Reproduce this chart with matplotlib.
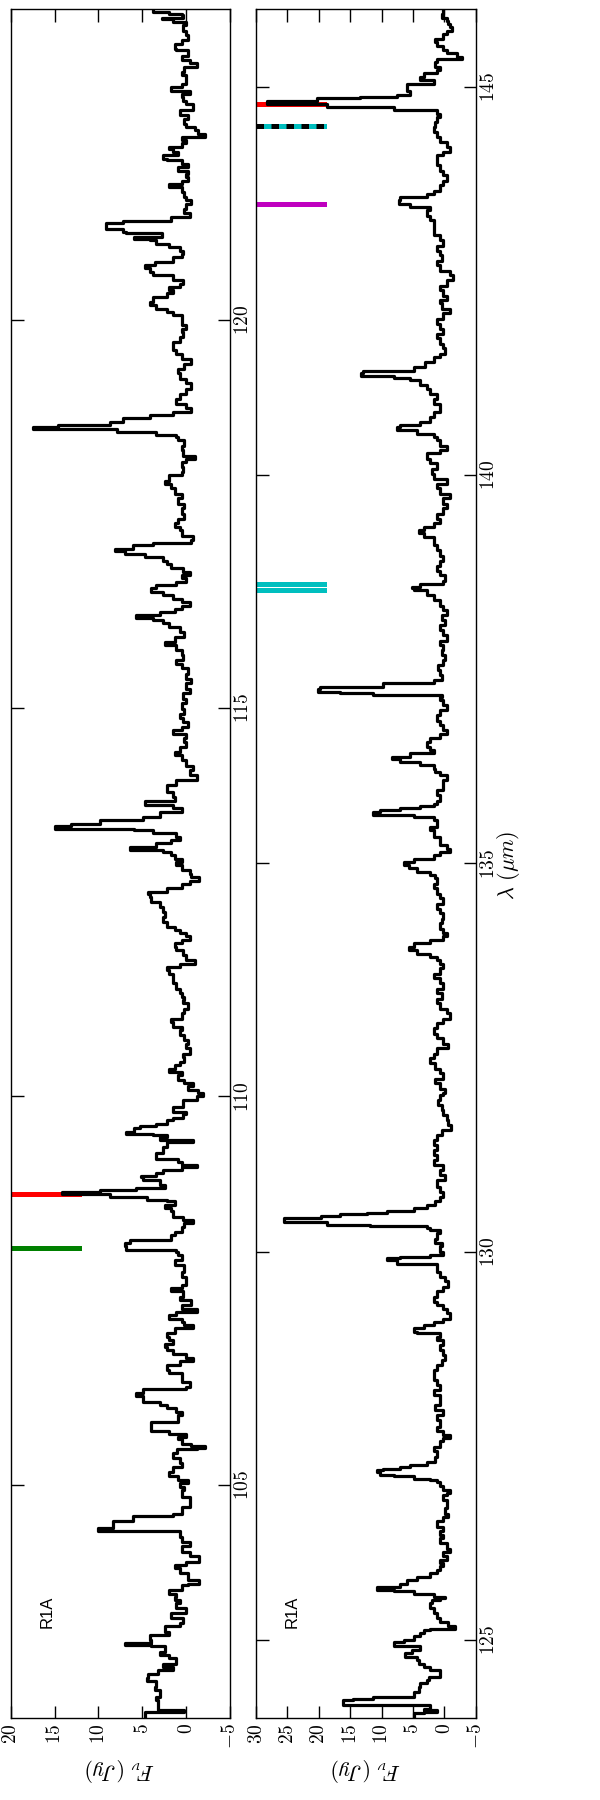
import matplotlib
matplotlib.use('Agg')
import matplotlib.pyplot as plt

plt.rcParams['mathtext.fontset'] = 'cm'

# upper spectrum (102-124 um): wavelength and flux density
wl_a = [102.02, 102.06, 102.08, 102.10, 102.12, 102.23, 102.27, 102.36, 102.40, 102.47, 102.51, 102.57,
        102.62, 102.66, 102.70, 102.77, 102.81, 102.85, 102.92, 102.94, 102.97, 103.00, 103.07, 103.11,
        103.18, 103.22, 103.28, 103.35, 103.41, 103.48, 103.52, 103.56, 103.60, 103.65, 103.71, 103.73,
        103.78, 103.86, 103.93, 103.97, 104.01, 104.08, 104.14, 104.21, 104.27, 104.33, 104.38, 104.40,
        104.44, 104.51, 104.53, 104.58, 104.60, 104.63, 104.72, 104.81, 104.85, 104.89, 104.93, 104.97,
        105.02, 105.06, 105.11, 105.17, 105.23, 105.28, 105.34, 105.41, 105.46, 105.48, 105.50, 105.53,
        105.59, 105.62, 105.66, 105.69, 105.79, 105.81, 105.90, 105.94, 105.99,
        106.03, 106.07, 106.14, 106.18, 106.22, 106.24, 106.26, 106.33, 106.37, 106.44, 106.48, 106.54,
        106.59, 106.63, 106.69, 106.74, 106.78, 106.82, 106.86, 106.91, 106.95, 107.02, 107.06, 107.10,
        107.14, 107.19, 107.23, 107.27, 107.32, 107.38, 107.42, 107.49, 107.53, 107.57, 107.62, 107.68,
        107.74, 107.83, 107.89, 107.96, 108.00, 108.03, 108.07, 108.11, 108.13, 108.15, 108.22, 108.26,
        108.32, 108.37, 108.41, 108.45, 108.52, 108.56, 108.60, 108.65, 108.67, 108.71, 108.74, 108.77,
        108.80, 108.82, 108.84, 108.86, 108.92, 108.96, 108.98, 109.01, 109.03, 109.05, 109.09, 109.12,
        109.16, 109.20, 109.27, 109.35, 109.42, 109.44, 109.48, 109.50, 109.52, 109.54, 109.59, 109.62,
        109.65, 109.70, 109.72, 109.78, 109.80, 109.87, 109.95, 110.00,
        110.04, 110.08, 110.13, 110.17, 110.21, 110.28, 110.32, 110.36, 110.40, 110.45, 110.51, 110.55,
        110.62, 110.68, 110.73, 110.79, 110.85, 110.90, 110.96, 111.00, 111.07, 111.13, 111.20, 111.24,
        111.28, 111.33, 111.39, 111.46, 111.52, 111.58, 111.63, 111.67, 111.71, 111.76, 111.82, 111.88,
        111.93, 111.97, 112.01, 112.06, 112.10, 112.14, 112.18, 112.25, 112.31, 112.38, 112.44, 112.51,
        112.57, 112.61, 112.63, 112.68, 112.74, 112.78, 112.83, 112.87, 112.91, 112.98, 113.02, 113.06,
        113.11, 113.15, 113.17, 113.19, 113.21, 113.26, 113.30, 113.34, 113.39, 113.43, 113.45, 113.48,
        113.51, 113.56, 113.60, 113.66, 113.71, 113.75, 113.77, 113.81, 113.86, 113.92, 113.96, 114.01,
        114.07, 114.14, 114.20, 114.26, 114.33, 114.39, 114.44, 114.50, 114.57,
        114.61, 114.67, 114.72, 114.76, 114.82, 114.87, 114.93, 114.99, 115.06, 115.12, 115.19, 115.25,
        115.32, 115.38, 115.44, 115.51, 115.57, 115.62, 115.68, 115.75, 115.81, 115.85, 115.92, 115.98,
        116.05, 116.09, 116.13, 116.16, 116.20, 116.24, 116.28, 116.32, 116.37, 116.41, 116.45, 116.50,
        116.54, 116.58, 116.62, 116.67, 116.71, 116.75, 116.80, 116.86, 116.90, 116.95, 116.99, 117.02,
        117.05, 117.10, 117.12, 117.16, 117.22, 117.29, 117.33, 117.38, 117.44, 117.50, 117.57, 117.63,
        117.70, 117.76, 117.83, 117.89, 117.93, 118.00, 118.04, 118.10, 118.17, 118.21, 118.25, 118.32,
        118.38, 118.45, 118.49, 118.51, 118.56, 118.59, 118.62, 118.64, 118.68, 118.73, 118.77, 118.81,
        118.86, 118.92, 118.98,
        119.05, 119.11, 119.18, 119.24, 119.31, 119.37, 119.43, 119.50, 119.56, 119.61, 119.65, 119.71,
        119.78, 119.84, 119.88, 119.93, 119.99, 120.06, 120.10, 120.14, 120.19, 120.23, 120.29, 120.34,
        120.38, 120.42, 120.46, 120.51, 120.57, 120.61, 120.66, 120.70, 120.74, 120.81, 120.85, 120.89,
        120.94, 120.98, 121.02, 121.04, 121.07, 121.11, 121.13, 121.17, 121.22, 121.24, 121.27, 121.32,
        121.37, 121.43, 121.49, 121.54, 121.58, 121.64, 121.71, 121.75, 121.79, 121.84, 121.88, 121.92,
        121.97, 122.01, 122.05, 122.07, 122.12, 122.16, 122.20, 122.22, 122.27, 122.31, 122.35, 122.39,
        122.44, 122.48, 122.52, 122.59, 122.63, 122.70, 122.74, 122.78, 122.82, 122.87, 122.91, 122.95,
        123.00, 123.04, 123.10, 123.15, 123.19, 123.25, 123.30, 123.34, 123.40, 123.47, 123.49, 123.55,
        123.60, 123.66, 123.72, 123.79, 123.83, 123.87, 123.89, 123.92, 123.94, 123.96, 124.00]
fx_a = [4.7, 4.7, 0.2, 3.2, 3.2, 3.4, 3.0, 3.6, 3.4, 4.5, 4.3, 3.2,
        1.5, 2.6, 1.1, 1.9, 3.0, 2.4, 4.0, 7.0, 4.0, 4.1, 2.0, 2.4,
        0.7, 0.3, 1.7, 0.0, 1.1, 0.7, 1.3, 1.1, 1.9, 0.5, -0.2, -1.5,
        -0.2, 0.7, 1.3, 0.0, -1.5, -0.4, 0.5, -0.4, 0.5, 0.7, 0.7, 10.0,
        8.3, 8.3, 6.0, 6.0, 1.5, 0.5, -0.4, -0.4, 0.5, 0.5, 0.2, 0.7,
        -0.2, 0.9, 1.9, 1.5, 0.5, 0.7, 1.5, 1.0, -1.2, -2.1, -0.5, 0.5,
        0.9, 0.0, 1.9, 4.0, 4.0, 0.9, 0.5, 1.1, 2.2,
        3.0, 4.9, 5.7, 4.9, 4.9, 0.0, -0.4, 0.5, 0.5, 2.0, 2.2, 0.7,
        -0.8, 0.0, 1.5, 2.2, 2.4, 1.5, 1.9, 2.2, 1.3, -0.8, 0.2, 0.5,
        2.0, 1.1, -1.2, 0.5, -0.6, 0.7, 0.3, 1.7, 0.5, 0.0, 0.0, 0.5,
        0.2, 1.3, 0.5, 0.9, 1.1, 6.8, 7.0, 6.4, 6.4, 1.7, 1.3, 0.5,
        0.2, -0.8, 0.3, 1.5, 1.7, 2.4, 1.3, 2.2, 4.5, 8.7, 14.1, 9.8,
        5.7, 2.4, 2.4, 3.0, 4.9, 5.1, 3.4, 2.6, 2.6, 0.5, -1.2, 0.5,
        0.9, 3.4, 2.6, 2.2, -0.8, 3.0, 2.2, 3.8, 6.8, 5.9, 5.3, 3.4,
        2.2, 1.5, 0.3, 0.0, 1.5, 0.3, -1.2, -1.9,
        -1.4, -0.2, -0.8, 0.2, 0.9, 0.5, 1.9, 1.3, 0.7, 0.2, 0.3, -0.4,
        0.0, -0.2, 0.2, 0.7, 0.5, 1.5, 1.7, 0.5, 0.2, -0.2, 0.3, 0.2,
        0.5, 0.7, 1.1, 1.5, 1.5, 1.9, 2.2, 0.7, -1.0, 0.0, 0.3, 1.1,
        1.3, 0.5, -0.4, 0.0, 0.7, 1.3, 2.2, 2.6, 2.4, 2.6, 3.0, 4.0,
        4.1, 4.3, 2.2, 0.5, -0.4, -1.5, -0.6, -0.4, 0.5, 1.1, 0.5, 1.3,
        1.7, 2.6, 6.4, 6.4, 3.4, 1.7, 0.7, 1.1, 3.8, 5.9, 15.0, 13.1,
        9.8, 4.9, 3.0, 0.5, 1.5, 4.7, 4.7, 1.3, 1.5, 2.2, 2.2, 1.1,
        -1.2, -0.4, -0.8, 0.0, 0.5, 1.3, 0.7, 0.0, 0.2,
        0.0, 1.5, 0.5, -0.2, 0.4, 0.7, 0.2, 0.5, 0.0, 0.4, -0.4, 0.0,
        -0.6, 0.0, -0.2, 0.5, 1.1, 0.4, 0.5, 1.1, 2.4, 1.3, 0.2, 0.7,
        1.9, 2.6, 3.8, 5.7, 3.0, 1.3, 0.5, -0.4, 0.5, 1.5, 2.6, 4.0,
        3.4, 1.1, 0.0, 0.5, -0.4, 0.4, 1.7, 2.2, 2.6, 4.7, 7.0, 8.1,
        6.0, 3.8, -0.6, -0.8, 0.5, 0.7, 1.3, 0.9, 0.2, 0.5, 0.2, 0.9,
        0.5, 1.3, 1.7, 2.4, 2.0, 0.5, 0.4, 0.5, 0.0, -1.0, 0.4, 0.5,
        0.2, 0.9, 1.1, 3.4, 7.9, 17.4, 14.6, 8.7, 7.2, 4.1, 1.5, -0.6,
        0.0, 1.1, 0.7,
        0.0, -0.6, 0.0, 0.7, 0.9, 0.2, -0.6, 0.5, 1.1, 1.5, 1.5, 0.7,
        0.3, 0.5, 0.0, 0.5, 0.5, 1.5, 2.2, 3.4, 4.1, 3.8, 2.2, 1.5,
        1.9, 0.7, 0.4, 1.5, 3.8, 4.1, 4.7, 3.6, 1.5, 0.5, 0.4, 0.7,
        2.0, 3.4, 4.1, 5.9, 2.8, 6.8, 7.2, 9.1, 9.1, 7.2, 1.7, -0.4,
        0.2, 0.0, -0.6, 0.0, 0.2, 0.5, 2.0, 0.5, -0.2, 0.0, -0.2, 0.9,
        -0.2, 0.5, 2.2, 2.6, 0.9, 1.5, 1.9, 0.5, 0.0, 0.5, -2.1, -1.4,
        -1.0, 0.0, 0.2, -0.2, 0.7, -0.8, -0.8, 0.0, 0.4, 0.5, -0.4, 1.7,
        0.5, 0.0, 0.0, 0.5, 0.2, -1.2, -0.4, 0.5, -0.2, 1.1, 1.3, 0.5,
        -0.2, 0.0, 0.4, 0.0, 1.5, 2.8, 0.4, 0.5, 1.9, 3.8, 3.8]

# lower spectrum (124-146 um)
wl_b = [124.00, 124.04, 124.06, 124.08, 124.10, 124.12, 124.15, 124.16, 124.21, 124.23, 124.25, 124.27,
        124.30, 124.34, 124.40, 124.45, 124.49, 124.53, 124.57, 124.62, 124.66, 124.70, 124.75, 124.79,
        124.83, 124.88, 124.92, 124.96, 124.98, 125.00, 125.05, 125.09, 125.13, 125.15, 125.18, 125.23,
        125.28, 125.35, 125.41, 125.48, 125.52, 125.54, 125.56, 125.60, 125.63, 125.65, 125.68, 125.69,
        125.73, 125.78, 125.82, 125.86, 125.90, 125.95, 125.99, 126.03, 126.08, 126.14, 126.18, 126.25,
        126.31, 126.36, 126.40, 126.46, 126.53, 126.59, 126.63, 126.70, 126.81, 126.87, 126.89, 126.93,
        126.98, 127.04, 127.06, 127.08, 127.11, 127.13, 127.17, 127.19, 127.21, 127.23, 127.26, 127.30,
        127.36, 127.43, 127.49, 127.56, 127.60, 127.64, 127.69, 127.75,
        127.84, 127.90, 127.96, 128.03, 128.09, 128.16, 128.22, 128.29, 128.35, 128.41, 128.48, 128.54,
        128.61, 128.67, 128.74, 128.80, 128.86, 128.91, 128.95, 128.97, 129.02, 129.06, 129.10, 129.14,
        129.21, 129.27, 129.32, 129.36, 129.42, 129.49, 129.55, 129.62, 129.68, 129.74, 129.81, 129.85,
        129.89, 129.92, 129.94, 129.96, 130.00, 130.07, 130.12, 130.17, 130.24, 130.28, 130.31, 130.33,
        130.35, 130.38, 130.41, 130.43, 130.46, 130.49, 130.50, 130.53, 130.56, 130.60, 130.65, 130.71,
        130.77, 130.84, 130.92, 130.99, 131.05, 131.12, 131.18, 131.25, 131.31, 131.37, 131.44, 131.50,
        131.57, 131.63, 131.70, 131.76, 131.82, 131.89, 131.95, 132.02,
        132.04, 132.10, 132.17, 132.23, 132.30, 132.36, 132.43, 132.49, 132.55, 132.62, 132.68, 132.75,
        132.81, 132.88, 132.94, 133.00, 133.07, 133.13, 133.20, 133.26, 133.33, 133.39, 133.46, 133.52,
        133.58, 133.65, 133.71, 133.76, 133.80, 133.84, 133.88, 133.93, 133.97, 134.01, 134.06, 134.10,
        134.16, 134.23, 134.29, 134.36, 134.42, 134.48, 134.55, 134.61, 134.68, 134.74, 134.81, 134.85,
        134.89, 134.94, 134.98, 135.02, 135.06, 135.11, 135.15, 135.19, 135.24, 135.30, 135.34, 135.39,
        135.43, 135.47, 135.51, 135.56, 135.60, 135.63, 135.66, 135.69, 135.71, 135.74, 135.77, 135.81,
        135.88, 135.94, 136.01, 136.07, 136.14, 136.18, 136.22, 136.27, 136.31, 136.34, 136.37, 136.42,
        136.46, 136.50, 136.57,
        136.61, 136.67, 136.72, 136.78, 136.84, 136.91, 136.97, 137.04, 137.10, 137.14, 137.17, 137.19,
        137.21, 137.24, 137.27, 137.32, 137.36, 137.42, 137.49, 137.55, 137.62, 137.68, 137.75, 137.81,
        137.87, 137.94, 138.00, 138.07, 138.13, 138.20, 138.26, 138.32, 138.39, 138.45, 138.52, 138.54,
        138.56, 138.60, 138.64, 138.71, 138.77, 138.83, 138.90, 138.96, 139.03, 139.10, 139.14, 139.20,
        139.25, 139.29, 139.33, 139.38, 139.44, 139.50, 139.57, 139.63, 139.70, 139.76, 139.83, 139.89,
        139.95, 140.02, 140.08, 140.15, 140.21, 140.28, 140.32, 140.38, 140.45, 140.49, 140.53, 140.58,
        140.62, 140.64, 140.68, 140.75, 140.81, 140.86, 140.92, 140.98,
        141.05, 141.11, 141.16, 141.18, 141.22, 141.25, 141.27, 141.31, 141.34, 141.39, 141.46, 141.52,
        141.56, 141.63, 141.69, 141.76, 141.82, 141.88, 141.95, 142.01, 142.08, 142.14, 142.21, 142.25,
        142.31, 142.38, 142.44, 142.51, 142.57, 142.63, 142.70, 142.76, 142.83, 142.89, 142.95, 143.02,
        143.09, 143.15, 143.22, 143.28, 143.34, 143.41, 143.45, 143.49, 143.54, 143.58, 143.62, 143.66,
        143.73, 143.79, 143.86, 143.92, 143.99, 144.05, 144.12, 144.16, 144.22, 144.29, 144.35, 144.42,
        144.48, 144.54, 144.61, 144.65, 144.70, 144.74, 144.78, 144.82, 144.85, 144.87, 144.89, 144.95,
        145.02, 145.04, 145.06, 145.08, 145.12, 145.17, 145.21, 145.25, 145.32, 145.36, 145.38, 145.43,
        145.47, 145.53, 145.58, 145.62, 145.68, 145.72, 145.77, 145.81, 145.85, 145.89, 145.94, 145.98]
fx_b = [4.9, 4.9, 3.3, 1.2, 3.3, 2.3, 2.3, 16.1, 16.1, 14.5, 11.3, 4.9,
        4.9, 4.1, 3.9, 2.8, 2.5, 0.7, 0.7, 2.3, 3.3, 4.1, 4.4, 6.3,
        5.2, 3.9, 8.1, 8.1, 6.5, 4.9, 3.9, 3.3, 2.3, -1.7, -0.6, 0.7,
        1.2, 1.7, 2.3, 2.0, 0.7, -0.1, 1.7, 4.9, 8.1, 10.8, 10.2, 7.1,
        6.0, 4.4, 2.3, 1.2, 0.7, 0.2, 0.7, -0.4, 0.2, -0.9, -0.4, 0.7,
        0.2, 0.7, 0.2, 1.2, 0.2, -0.6, -0.1, -0.4, 0.2, -0.4, -0.9, 0.2,
        0.7, 1.2, 2.3, 4.9, 8.1, 10.2, 10.8, 9.7, 7.1, 5.5, 2.8, 1.5,
        1.2, 1.7, 0.7, 0.2, -0.9, 0.2, 1.2, 0.7,
        1.2, 0.2, 1.5, 0.7, 0.7, 1.7, 0.7, 1.2, 1.7, 1.7, 1.2, 0.4,
        -0.1, 0.2, 0.7, 0.2, 1.2, 0.7, 4.4, 4.9, 3.3, 1.7, 0.2, -0.9,
        -0.4, 0.2, 1.2, 1.7, 1.2, 0.2, -0.6, -0.1, 0.7, 1.2, 1.2, 7.6,
        9.2, 7.1, 2.3, 0.2, 0.7, 0.4, 1.5, 1.2, 0.7, 2.3, 2.8, 11.9,
        18.7, 25.6, 25.6, 19.7, 16.6, 12.4, 9.2, 4.9, 2.8, 1.5, 0.7, 0.2,
        0.7, 1.2, -0.1, 0.7, 0.2, 1.7, 1.2, 1.7, 1.2, 1.7, 1.2, 0.4,
        -1.1, -0.6, -0.4, 0.2, 0.4, 1.0, 0.7, 0.2,
        -0.1, 0.7, 1.5, 0.2, 0.7, 1.5, 2.3, 1.7, 1.2, -0.6, 0.2, 1.2,
        1.7, 1.2, 0.2, -0.9, -0.4, 0.7, 1.2, 0.4, 1.2, 0.2, 0.7, 1.7,
        0.7, 0.2, 0.7, 1.2, 2.3, 4.4, 5.7, 4.9, 2.3, 0.2, -0.4, 0.2,
        0.7, 0.4, 0.2, 0.7, 1.2, 0.2, 0.7, 1.2, 1.7, 1.2, 1.5, 2.3,
        4.4, 5.7, 6.5, 4.9, 1.7, 0.7, -0.9, -0.4, 0.7, 0.7, 1.7, 1.7,
        2.3, 1.2, 1.2, 1.7, 4.9, 11.3, 10.2, 7.1, 3.9, 1.7, 1.2, 0.7,
        1.2, 0.2, 0.2, -0.4, 0.7, 1.5, 1.7, 3.9, 7.1, 8.4, 5.5, 1.7,
        2.3, 2.8, 2.3,
        0.7, -0.4, 0.2, 0.7, 1.2, 0.7, -0.4, 0.2, 0.7, 0.4, 11.3, 16.6,
        20.1, 19.8, 9.7, 1.7, 0.4, 0.7, 1.0, 0.2, -0.1, 0.4, 0.2, 0.7,
        -0.4, 0.2, 0.7, -0.1, 0.4, -0.4, 0.2, 0.7, 1.7, 2.8, 4.9, 5.2,
        3.9, 0.2, -0.1, 0.7, 1.2, 0.7, 0.2, 0.7, 1.2, 1.7, 1.7, 3.3,
        4.1, 3.3, 1.7, 0.7, 1.2, 0.2, -0.4, 0.2, -0.9, 0.7, 1.2, -0.4,
        1.7, 2.0, 1.2, 2.3, 2.8, 0.7, -0.4, 0.7, 1.2, 1.7, 4.4, 7.6,
        7.1, 3.9, 2.3, 1.7, 0.7, 0.7, 1.7, 1.2,
        2.3, 2.8, 3.9, 3.9, 5.5, 8.1, 13.2, 12.9, 4.9, 3.1, 1.7, 0.7,
        -0.1, 0.2, 0.7, 1.2, 0.2, 0.7, 1.2, 0.2, -0.9, 0.4, 0.7, -0.4,
        0.2, 0.7, -0.4, -1.4, -0.9, 0.7, 1.2, 0.4, 0.7, 1.2, 0.2, 0.7,
        1.7, 1.7, 1.7, 2.3, 2.8, 2.3, 5.5, 7.3, 7.1, 2.8, 1.7, 0.7,
        0.2, -0.4, 0.2, 0.7, 1.2, 1.2, 0.2, -0.9, -0.4, 0.7, 1.2, 1.7,
        1.5, 1.2, 0.7, 1.2, 8.1, 18.7, 28.3, 20.3, 13.4, 7.6, 5.5, 6.0,
        6.0, 1.7, 1.7, 3.9, 3.3, 1.2, 0.7, 1.5, 1.2, -2.8, -2.0, -0.4,
        0.2, 1.2, 1.5, 0.2, -0.4, -1.2, -0.9, -0.6, -0.4, 0.4, 0.2, 0.2]

# line identifications
marks_a = [108.05, 108.74]
colors_a = ['g', 'r']
marks_b = [138.52, 138.60, 143.49, 144.50, 144.78]
colors_b = ['c', 'c', 'm', 'c', 'r']

wl_ticks_a = [105, 110, 115, 120]
wl_ticks_b = [125, 130, 135, 140, 145]
fx_ticks_a = [20, 15, 10, 5, 0, -5]
fx_ticks_b = [30, 25, 20, 15, 10, 5, 0, -5]


def tex(v):
    return '$%d$' % v


fig = plt.figure(figsize=(6, 18), dpi=100)
ax1 = fig.add_axes([0.0178, 0.0456, 0.3655, 0.9494])
ax2 = fig.add_axes([0.4267, 0.0456, 0.3662, 0.9494])

panels = [(ax1, wl_a, fx_a, marks_a, colors_a, (20, -5), (102, 124), wl_ticks_a, fx_ticks_a),
          (ax2, wl_b, fx_b, marks_b, colors_b, (30, -5), (124, 146), wl_ticks_b, fx_ticks_b)]

for ax, wl, fx, marks, cols, xl, yl, yt, xt in panels:
    for m, c in zip(marks, cols):
        ax.axhline(m, xmin=0, xmax=0.31, color=c, lw=3.6, zorder=2)
    # step-like spectrum along the wavelength axis
    ax.plot(fx, wl, color='k', lw=2.3, zorder=3, drawstyle='steps-pre')
    ax.set_xlim(*xl)
    ax.set_ylim(*yl)
    ax.set_xticks(xt)
    ax.set_xticklabels([tex(v) for v in xt], rotation=90, fontsize=14, va='top', ha='center')
    ax.set_yticks(yt)
    ax.yaxis.tick_right()
    ax.set_yticklabels([tex(v) for v in yt], rotation=90, fontsize=14, va='center', ha='left')
    ax.tick_params(direction='in', length=9, width=1, top=True, bottom=True, left=True, right=True,
                   labelleft=False, labelright=True)
    ax.tick_params(axis='x', pad=4)
    ax.tick_params(axis='y', pad=2)
    for s in ax.spines.values():
        s.set_linewidth(1.0)
    ax.text(0.165, 0.062, 'R1A', transform=ax.transAxes, rotation=90, ha='center', va='center',
            fontsize=12, family='Liberation Sans')

# black dashes over the cyan line at 144.5
ax2.axhline(144.50, xmin=0, xmax=0.31, color='k', lw=3.6, ls=(0, (1.5, 1.5)), zorder=2.5)

fig.text(120 / 600, 1 - 1770 / 1800, r'$F_\nu\ (Jy)$', rotation=180, ha='center', va='center', fontsize=16)
fig.text(366 / 600, 1 - 1770 / 1800, r'$F_\nu\ (Jy)$', rotation=180, ha='center', va='center', fontsize=16)
fig.text(509 / 600, 1 - 865 / 1800, r'$\lambda\ (\mu m)$', rotation=90, ha='center', va='center', fontsize=16)

fig.savefig('out.png', dpi=100)
